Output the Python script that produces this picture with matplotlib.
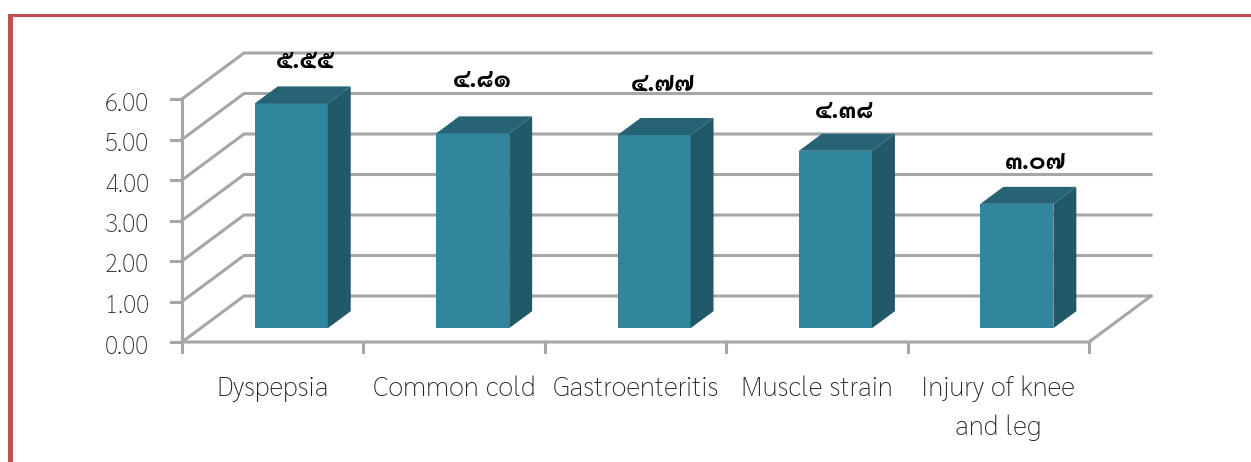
import matplotlib
matplotlib.use("Agg")
import matplotlib.pyplot as plt
from matplotlib.patches import Polygon, Rectangle

categorias = ["Dyspepsia", "Common cold", "Gastroenteritis", "Muscle strain", "Injury of knee\nand leg"]
valores = [5.55, 4.81, 4.77, 4.38, 3.07]
rotulos = ["๕.๕๕", "๔.๘๑", "๔.๗๗", "๔.๓๘", "๓.๐๗"]
ticks_y = [0, 1, 2, 3, 4, 5, 6]

plt.rcParams["font.family"] = ["Sarabun", "DejaVu Sans"]

# escala em pixels da figura original
PX_X = 181.4
PX_Y = 40.5
DEPTH_X = 62 / PX_X
DEPTH_Y = 46 / PX_Y
GRID = "#a6a6a6"

# deslocamento manual dos rotulos (px) em relacao ao topo da barra
rot_dx = [14, 10, 9, 9, 19]
rot_dy = [42, 53, 50, 39, 41]

fig = plt.figure(figsize=(12.51, 4.62), dpi=100)
ax = fig.add_axes([0, 0, 1, 1])
ax.set_xlim(-182 / PX_X, (1251 - 182) / PX_X)
ax.set_ylim(-120 / PX_Y, 342 / PX_Y)
ax.axis("off")

# =========================
# MOLDURA VERMELHA
# =========================
ax.add_patch(Rectangle((8 / 1251, 0), 5 / 1251, 448 / 462, transform=ax.transAxes, color="#c0504d", lw=0))
ax.add_patch(Rectangle((8 / 1251, 445 / 462), 1243 / 1251, 3 / 462, transform=ax.transAxes, color="#c0504d", lw=0))

# =========================
# GRADE E EIXOS
# =========================
n = len(categorias)
for t in ticks_y:
    ax.plot([0, DEPTH_X, n + DEPTH_X], [t, t + DEPTH_Y, t + DEPTH_Y], color=GRID, lw=2.2, zorder=1, solid_joinstyle="miter")
    ax.plot([-11 / PX_X, 0], [t, t], color=GRID, lw=2.2, zorder=1)
    ax.text(-33 / PX_X, t - 5 / PX_Y, f"{t:.2f}", ha="right", va="center", fontsize=17.5, fontweight="light", color="#222222")

ax.plot([0, 0], [0, ticks_y[-1]], color=GRID, lw=2.2, zorder=1)
ax.plot([0, n, n + DEPTH_X], [0, 0, DEPTH_Y], color=GRID, lw=2.2, zorder=1, solid_joinstyle="miter")
for i in range(n + 1):
    ax.plot([i, i], [0, -10 / PX_Y], color=GRID, lw=2.2, zorder=1)

# =========================
# BARRAS 3D
# =========================
larg = 73 / PX_X
ox = 0.3 * DEPTH_X
oy = 0.3 * DEPTH_Y
px = 0.37 * DEPTH_X
py = 0.37 * DEPTH_Y
for i, v in enumerate(valores):
    x0 = i + 0.5 + ox - larg / 2
    x1 = x0 + larg
    y0 = oy
    y1 = oy + v
    ax.add_patch(Polygon([(x0, y0), (x1, y0), (x1, y1), (x0, y1)], color="#31859c", lw=0, zorder=3))
    ax.add_patch(Polygon([(x1, y0), (x1 + px, y0 + py), (x1 + px, y1 + py), (x1, y1)], color="#215968", lw=0, zorder=3))
    ax.add_patch(Polygon([(x0, y1), (x1, y1), (x1 + px, y1 + py), (x0 + px, y1 + py)], color="#266475", lw=0, zorder=3))
    ax.text(x0 + larg / 2 + rot_dx[i] / PX_X, y1 + rot_dy[i] / PX_Y, rotulos[i], ha="center", va="center", fontsize=18, fontweight="bold", color="black", zorder=4)
    ax.text(i + 0.5, -34 / PX_Y, categorias[i], ha="center", va="top", fontsize=19.8, fontweight="light", color="#222222", linespacing=1.6)

fig.savefig("out.png", dpi=100)
